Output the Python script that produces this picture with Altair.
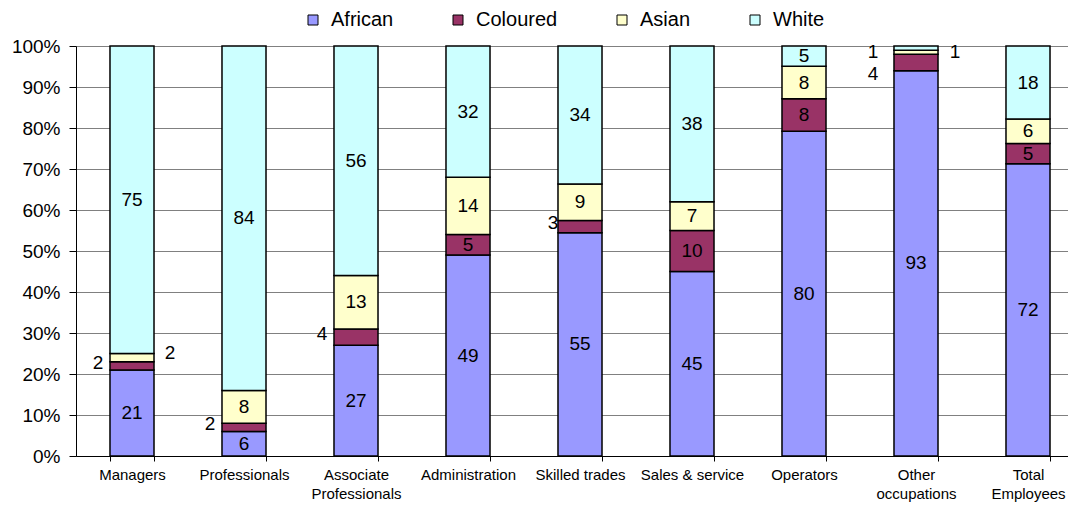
import altair as alt
import pandas as pd

categories = ["Managers", "Professionals", "Associate|Professionals", "Administration",
              "Skilled trades", "Sales & service", "Operators", "Other|occupations",
              "Total|Employees"]
groups = ["African", "Coloured", "Asian", "White"]
african = [21, 6, 27, 49, 55, 45, 80, 93, 72]
coloured = [2, 2, 4, 5, 3, 10, 8, 4, 5]
asian = [2, 8, 13, 14, 9, 7, 8, 1, 6]
white = [75, 84, 56, 32, 34, 38, 5, 1, 18]
colors = ["#9999FF", "#993366", "#FFFFCC", "#CCFFFF"]

series = {"African": african, "Coloured": coloured, "Asian": asian, "White": white}
rows = []
for gi, g in enumerate(groups):
    for ci, c in enumerate(categories):
        rows.append({"category": c, "group": g, "order": gi, "value": series[g][ci]})
df = pd.DataFrame(rows)

# labels drawn outside their (thin) segments
outside = {
    ("Managers", "Coloured"): "l",
    ("Professionals", "Coloured"): "l",
    ("Associate|Professionals", "Coloured"): "l",
    ("Managers", "Asian"): "r",
    ("Skilled trades", "Coloured"): "ls",
    ("Other|occupations", "Asian"): "lo",
    ("Other|occupations", "Coloured"): "lo2",
    ("Other|occupations", "White"): "ro",
}
df["place"] = [outside.get((r.category, r.group), "c") for r in df.itertuples()]
offsets = {"c": (0, 0), "l": (-34, -3), "r": (38, -5), "ls": (-27, -4),
           "lo": (-43, 0), "lo2": (-43, 11), "ro": (39, 4)}

FONT = "Liberation Sans"

base = alt.Chart(df).transform_stack(
    stack="value", groupby=["category"], as_=["y0", "y1"], offset="normalize",
    sort=[alt.SortField("order", order="ascending")]
).transform_calculate(mid="(datum.y0 + datum.y1) / 2")

xscale = alt.Scale(paddingInner=0.607, paddingOuter=0.3035, range=[0, 1008])

xenc = alt.X(
    "category:N", sort=categories, title=None, scale=xscale,
    axis=alt.Axis(labelAngle=0, labelExpr="split(datum.label, '|')", labelFontSize=15,
                  labelFont=FONT, labelColor="black", tickBand="extent", tickSize=5,
                  labelPadding=6, domainColor="black", tickColor="black", grid=False,
                  labelLineHeight=19),
)

bars = base.mark_bar(stroke="black", strokeWidth=1.5, opacity=1).encode(
    x=xenc,
    y=alt.Y("y0:Q", scale=alt.Scale(domain=[0, 1]), title=None,
            axis=alt.Axis(values=[i / 10 for i in range(11)], format=".0%",
                          labelFontSize=19, labelFont=FONT, labelColor="black",
                          tickSize=7, tickColor="black", domainColor="black",
                          grid=True, gridColor="#808080", labelPadding=9)),
    y2="y1:Q",
    color=alt.Color("group:N", scale=alt.Scale(domain=groups, range=colors),
                    legend=alt.Legend(orient="none", legendX=227, legendY=-36,
                                      direction="horizontal", title=None,
                                      symbolType="square", symbolSize=100,
                                      symbolStrokeColor="black", symbolStrokeWidth=1,
                                      labelFontSize=20, labelFont=FONT,
                                      labelColor="black", columnPadding=54,
                                      labelOffset=8)),
    order=alt.Order("order:Q"),
)

layers = [bars]
for code, (dx, dy) in offsets.items():
    layers.append(
        base.transform_filter(alt.datum.place == code).mark_text(
            dx=dx, dy=dy, fontSize=19, font=FONT, color="black", baseline="middle"
        ).encode(
            x=alt.X("category:N", sort=categories),
            y=alt.Y("mid:Q", title=None),
            text=alt.Text("value:Q"),
        )
    )

chart = alt.layer(*layers).properties(
    width=992, height=410,
    autosize=alt.AutoSizeParams(type="none"),
    padding={"left": 68, "top": 38, "right": 0, "bottom": 48},
    background="white",
).configure_view(strokeWidth=0).configure(font=FONT)

chart.save("out.html", embed_options={"renderer": "svg", "actions": False})
